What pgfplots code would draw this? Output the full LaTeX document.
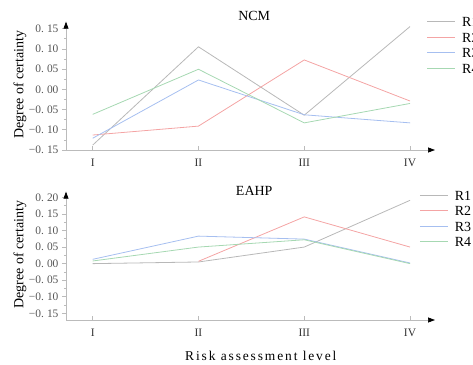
\documentclass[border=0pt]{standalone}
\usepackage{fontspec}
\setmainfont{Liberation Serif}
\usepackage{pgfplots}
\pgfplotsset{compat=1.18}
\usetikzlibrary{arrows.meta}
\definecolor{cGray}{HTML}{B8B8B8}
\definecolor{cRed}{HTML}{F4A4A4}
\definecolor{cBlue}{HTML}{A6BFF0}
\definecolor{cGreen}{HTML}{A6D8B2}
\definecolor{axgray}{HTML}{BBBBBB}
\definecolor{ticklab}{HTML}{555555}
\newcommand{\tsp}{\hspace{3bp}}

\pgfplotsset{
  panel/.style={
    scale only axis, width=369bp, height=128.3bp,
    xmin=0.748, xmax=4.236,
    axis x line=bottom, axis y line=left,
    axis line style={axgray, line width=0.7bp},
    x axis line style={-{Triangle[black,length=7bp,width=5bp]}},
    y axis line style={-{Triangle[black,length=7bp,width=5bp]}},
    xtick={1,2,3,4}, xticklabels={I,II,III,IV},
    xtick align=inside, ytick align=outside,
    major tick length=4bp, minor tick length=2bp,
    minor y tick num=1,
    tick style={axgray, line width=0.6bp},
    ticklabel style={font=\fontsize{11.5}{13}\selectfont, text=ticklab},
    xticklabel style={yshift=-5bp, text=black!80},
    every axis plot/.append style={line width=0.8bp, mark=none},
    legend cell align=left,
    legend style={draw=none, fill=none, inner xsep=0pt, inner ysep=0pt, anchor=north west,
      font=\fontsize{14}{16}\selectfont, nodes={inner sep=0pt, text height=10bp, text depth=0bp},
      row sep=5.4bp, column sep=6.5bp},
    legend image code/.code={\draw[##1] (0bp,0bp) -- (28bp,0bp);},
    ylabel={Degree of certainty},
    every axis y label/.style={at={(axis description cs:-0.1247,0.51)}, rotate=90, anchor=center, font=\fontsize{14}{16}\selectfont},
    title style={font=\fontsize{14}{16}\selectfont, anchor=center, at={(axis description cs:0.51,1)}},
  }
}

\begin{document}
\begin{tikzpicture}
\useasboundingbox (0,0) rectangle (473bp,365bp);
\begin{axis}[panel,
  at={(66bp,215bp)}, anchor=south west,
  ymin=-0.15, ymax=0.167,
  ytick={-0.15,-0.10,-0.05,0,0.05,0.10,0.15},
  yticklabels={−0.\tsp15,−0.\tsp10,−0.\tsp05,0.\tsp00,0.\tsp05,0.\tsp10,0.\tsp15},
  title={NCM}, title style={yshift=0bp},
  legend style={at={(0.9775,1.039)}},
]
\addplot[cGray] coordinates {(1,-0.138) (2,0.105) (3,-0.064) (4,0.155)};
\addplot[cRed] coordinates {(1,-0.113) (2,-0.091) (3,0.0725) (4,-0.029)};
\addplot[cBlue] coordinates {(1,-0.121) (2,0.023) (3,-0.063) (4,-0.083)};
\addplot[cGreen] coordinates {(1,-0.062) (2,0.0495) (3,-0.083) (4,-0.035)};
\legend{R1,R2,R3,R4}
\end{axis}
\begin{axis}[panel,
  at={(66bp,45bp)}, anchor=south west,
  ymin=-0.17, ymax=0.217,
  ytick={-0.15,-0.10,-0.05,0,0.05,0.10,0.15,0.20},
  yticklabels={−0.\tsp15,−0.\tsp10,−0.\tsp05,0.\tsp00,0.\tsp05,0.\tsp10,0.\tsp15,0.\tsp20},
  title={EAHP}, title style={yshift=-4.7bp},
  legend style={at={(0.9575,1.013)}},
  xlabel={Risk assessment level},
  every axis x label/.style={at={(axis description cs:0.528,0)}, anchor=base, yshift=-40bp,
    font=\fontsize{13.5}{16}\selectfont\addfontfeature{LetterSpace=14}},
]
\addplot[cGray] coordinates {(1,0.0) (2,0.005) (3,0.050) (4,0.191)};
\addplot[cRed] coordinates {(2,0.007) (3,0.141) (4,0.050)};
\addplot[cBlue] coordinates {(1,0.013) (2,0.083) (3,0.074) (4,0.002)};
\addplot[cGreen] coordinates {(1,0.008) (2,0.050) (3,0.072) (4,0.0)};
\legend{R1,R2,R3,R4}
\end{axis}
\end{tikzpicture}
\end{document}
